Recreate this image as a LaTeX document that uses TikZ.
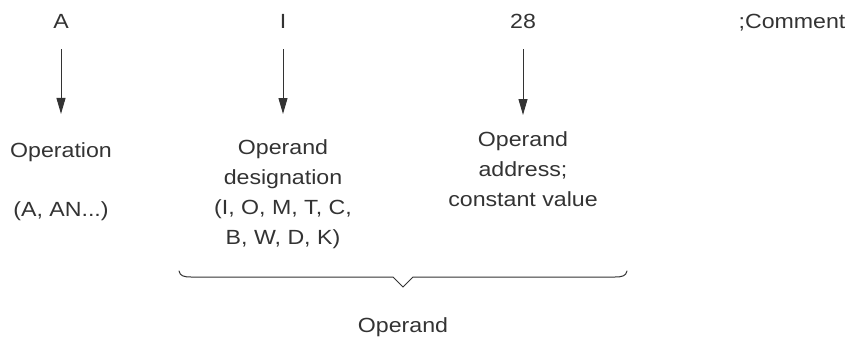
\documentclass[tikz,border=0pt]{standalone}
\usepackage{fontspec}
\setmainfont[FakeStretch=1.13]{Liberation Sans}
\usetikzlibrary{arrows.meta}
\definecolor{ink}{HTML}{333333}
\begin{document}
\begin{tikzpicture}[x=1pt,y=1pt,
  lbl/.style={inner sep=0pt,text=ink,font=\fontsize{20.5}{30}\selectfont},
  blk/.style={lbl,align=center,anchor=north},
  arr/.style={draw=ink,line width=1pt,-{Triangle[length=16pt,width=9pt]}},
  brc/.style={draw=ink,line width=1pt,line cap=round,line join=miter}]
\useasboundingbox (0,0) rectangle (854,-338);
% top row
\node[lbl,anchor=base] (A) at (61,-28) {A};
\node[lbl,anchor=base] (I) at (283,-28) {I};
\node[lbl,anchor=base] (N) at (523,-28) {28};
\node[lbl,anchor=base] (C) at (792,-28) {;Comment};
% descriptions
\node[lbl,anchor=base] (opn) at (61,-157) {Operation};
\node[lbl,anchor=base] (opl) at (61,-216) {(A, AN...)};
\node[blk] (des) at (283,-139) {Operand\\designation\\(I, O, M, T, C,\\B, W, D, K)};
\node[blk] (adr) at (523,-131) {Operand\\address;\\constant value};
\node[lbl,anchor=base] (opd) at (403,-332) {Operand};
% arrows
\draw[arr,shorten <=21pt,shorten >=28pt] (A.south) -- (opn.north);
\draw[arr,shorten <=21pt,shorten >=25pt] (I.south) -- (des.north);
\draw[arr,shorten <=21pt,shorten >=16pt] (N.south) -- (adr.north);
% brace
\coordinate (bl) at (179,-271);
\coordinate (br) at (627,-271);
\coordinate (bt) at (403,-287);
\draw[brc] (bl) .. controls (180,-276) and (184,-277) .. (191,-277)
  -- (393,-277) -- (bt) -- (413,-277) -- (615,-277)
  .. controls (622,-277) and (626,-276) .. (br);
\end{tikzpicture}
\end{document}
